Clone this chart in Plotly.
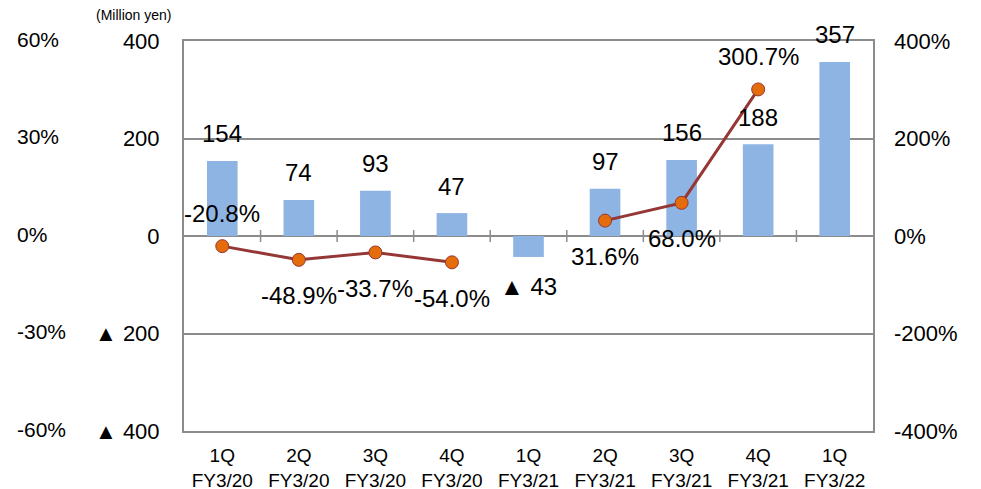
import plotly.graph_objects as go

# Quarterly operating income (million yen) and YoY growth (%)
quarters = ["1Q<br>FY3/20", "2Q<br>FY3/20", "3Q<br>FY3/20", "4Q<br>FY3/20",
            "1Q<br>FY3/21", "2Q<br>FY3/21", "3Q<br>FY3/21", "4Q<br>FY3/21",
            "1Q<br>FY3/22"]
income = [154, 74, 93, 47, -43, 97, 156, 188, 357]
growth = [-20.8, -48.9, -33.7, -54.0, None, 31.6, 68.0, 300.7, None]
growth_label_side = ["above", "below", "below", "below", None, "below", "below", "above", None]

left_tick_vals = [-400, -200, 0, 200, 400]
left_tick_text = ["▲ 400", "▲ 200", "0", "200", "400"]
right_tick_vals = [-400, -200, 0, 200, 400]
right_tick_text = ["-400%", "-200%", "0%", "200%", "400%"]
outer_pct_vals = [-60, -30, 0, 30, 60]
outer_pct_text = ["-60%", "-30%", "0%", "30%", "60%"]

FONT = "Liberation Sans, Arial, sans-serif"
GRID = "#8c8c8c"
BAR = "#8DB4E2"
LINE = "#953735"
MARK = "#E46C0A"

fig = go.Figure()

fig.add_trace(go.Bar(
    x=quarters, y=income, marker=dict(color=BAR, line=dict(width=0)),
    width=0.4, hoverinfo="skip", showlegend=False,
))

fig.add_trace(go.Scatter(
    x=quarters, y=growth, yaxis="y2", mode="lines+markers",
    line=dict(color=LINE, width=3),
    marker=dict(size=13, color=MARK, line=dict(color=LINE, width=1)),
    connectgaps=False, hoverinfo="skip", showlegend=False,
))

annotations = []

# value labels above / below the bars
for q, v in zip(quarters, income):
    text = str(v) if v >= 0 else "▲ " + str(abs(v))
    annotations.append(dict(
        x=q, y=v, xref="x", yref="y", text=text, showarrow=False,
        yanchor="middle", yshift=27 if v >= 0 else -30,
        font=dict(family=FONT, size=24, color="#000000"),
    ))

# growth-rate labels
for q, g, side in zip(quarters, growth, growth_label_side):
    if g is None:
        continue
    annotations.append(dict(
        x=q, y=g, xref="x", yref="y2", text=f"{g:.1f}%", showarrow=False,
        yanchor="middle", yshift=33 if side == "above" else -36,
        font=dict(family=FONT, size=24, color="#000000"),
    ))

# outer percentage scale on the far left
for v, t in zip(outer_pct_vals, outer_pct_text):
    annotations.append(dict(
        x=-0.2453, y=v, xref="paper", yref="y3", text=t, showarrow=False,
        xanchor="left", yanchor="middle", yshift=2,
        font=dict(family=FONT, size=21, color="#000000"),
    ))

annotations.append(dict(
    x=-0.074, y=1.067, xref="paper", yref="paper", text="(Million yen)",
    showarrow=False, xanchor="center", yanchor="middle",
    font=dict(family=FONT, size=14, color="#000000"),
))

# small tick marks across the zero line between categories
shapes = []
for i in range(len(quarters) - 1):
    shapes.append(dict(
        type="line", xref="x", yref="y", x0=i + 0.5, x1=i + 0.5,
        ysizemode="pixel", yanchor=0, y0=-6, y1=6,
        line=dict(color=GRID, width=1.5),
    ))

fig.update_layout(
    width=981, height=489,
    margin=dict(l=184, r=108, t=41, b=58),
    paper_bgcolor="white", plot_bgcolor="white",
    font=dict(family=FONT, color="#000000"),
    bargap=0.6,
    xaxis=dict(
        type="category", showgrid=False, showline=True, mirror=True,
        linecolor=GRID, linewidth=2, ticks="", automargin=False,
        tickfont=dict(family=FONT, size=19, color="#000000"),
        ticklabelstandoff=6, range=[-0.5, len(quarters) - 0.5],
    ),
    yaxis=dict(
        range=[-400, 400], tickvals=left_tick_vals, ticktext=left_tick_text,
        showgrid=True, gridcolor=GRID, gridwidth=1.5,
        zeroline=True, zerolinecolor=GRID, zerolinewidth=1.5,
        showline=True, mirror=True, linecolor=GRID, linewidth=2,
        tickfont=dict(family=FONT, size=22, color="#000000"),
        ticklabelstandoff=18, automargin=False,
    ),
    yaxis2=dict(
        range=[-400, 400], tickvals=right_tick_vals, ticktext=right_tick_text,
        overlaying="y", side="right", showgrid=False, zeroline=False,
        showline=False, automargin=False,
        tickfont=dict(family=FONT, size=22, color="#000000"),
        ticklabelstandoff=20,
    ),
    yaxis3=dict(range=[-60, 60], overlaying="y", visible=False),
    annotations=annotations,
    shapes=shapes,
)

fig.write_html("out.html")
